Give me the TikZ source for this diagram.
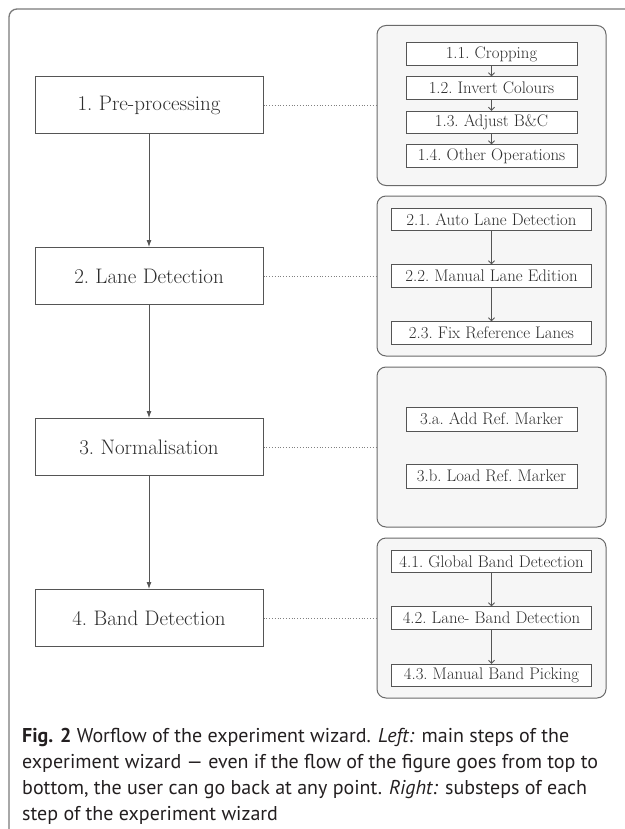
\documentclass[tikz,border=0pt]{standalone}
\usepackage{fontspec}
\newfontfamily\capfont[Ligatures=TeX]{PT Sans}
\usetikzlibrary{arrows.meta}
\definecolor{boxline}{HTML}{555555}
\definecolor{txt}{HTML}{2E2E2E}
\definecolor{panelfill}{HTML}{F6F6F6}
\definecolor{panelline}{HTML}{6A6A6A}
\definecolor{framecol}{HTML}{7A7A7A}
\definecolor{captxt}{HTML}{231F20}
\tikzset{
  mainbox/.style={draw=boxline, line width=1pt, fill=white, text=txt, minimum width=228pt, minimum height=57pt, inner sep=0pt, font=\fontsize{21}{25}\selectfont},
  panel/.style={draw=panelline, line width=1pt, fill=panelfill, rounded corners=9pt, minimum width=229pt, minimum height=160pt, inner sep=0pt},
  subbox/.style={draw=boxline, line width=0.9pt, fill=white, text=txt, minimum height=22.5pt, inner sep=0pt, font=\fontsize{16.8}{20}\selectfont},
  narrow/.style={subbox, minimum width=171pt},
  wide/.style={subbox, minimum width=200pt},
  mainarrow/.style={draw=boxline, line width=0.9pt, -{Latex[length=7pt,width=5pt]}},
  subarrow/.style={draw=boxline, line width=0.8pt, -{Straight Barb[length=3pt,width=6pt]}},
  link/.style={draw=gray, line width=0.8pt, dotted},
  capline/.style={anchor=base west, inner sep=0pt, text=captxt, font=\fontsize{20}{24}\selectfont\capfont}
}
\begin{document}
\begin{tikzpicture}[x=1pt, y=-1pt]
\useasboundingbox (0,0) rectangle (624,829);
% outer frame (only top and left visible)
\draw[framecol, line width=1.3pt, rounded corners=8pt] (9,835) -- (9,9) -- (630,9);

% main steps
\node[mainbox] (m1) at (149,105) {1.\ Pre-processing};
\node[mainbox] (m2) at (149,276) {2.\ Lane Detection};
\node[mainbox] (m3) at (149,447) {3.\ Normalisation};
\node[mainbox] (m4) at (149,618) {4.\ Band Detection};
\draw[mainarrow] (m1) -- (m2);
\draw[mainarrow] (m2) -- (m3);
\draw[mainarrow] (m3) -- (m4);

% panels
\node[panel] (p1) at (491.5,105.5) {};
\node[panel] (p2) at (491.5,276) {};
\node[panel] (p3) at (491.5,447) {};
\node[panel] (p4) at (491.5,618) {};

\draw[link] (m1.east) -- (p1.west |- m1.east);
\draw[link] (m2.east) -- (p2.west |- m2.east);
\draw[link] (m3.east) -- (p3.west |- m3.east);
\draw[link] (m4.east) -- (p4.west |- m4.east);

% panel 1
\node[narrow] (s11) at (491.5,54) {1.1.\ Cropping};
\node[narrow] (s12) at (491.5,88) {1.2.\ Invert Colours};
\node[narrow] (s13) at (491.5,122.5) {1.3.\ Adjust B\&C};
\node[narrow] (s14) at (491.5,156) {1.4.\ Other Operations};
\draw[subarrow] (s11) -- (s12);
\draw[subarrow] (s12) -- (s13);
\draw[subarrow] (s13) -- (s14);

% panel 2
\node[wide] (s21) at (491.5,219.5) {2.1.\ Auto Lane Detection};
\node[wide] (s22) at (491.5,276) {2.2.\ Manual Lane Edition};
\node[wide] (s23) at (491.5,333) {2.3.\ Fix Reference Lanes};
\draw[subarrow] (s21) -- (s22);
\draw[subarrow] (s22) -- (s23);

% panel 3
\node[narrow, minimum height=24pt] (s3a) at (491.5,419) {3.a.\ Add Ref.\ Marker};
\node[narrow, minimum height=24pt] (s3b) at (491.5,476) {3.b.\ Load Ref.\ Marker};

% panel 4
\node[wide] (s41) at (491.5,561.5) {4.1.\ Global Band Detection};
\node[wide] (s42) at (491.5,618) {4.2.\ Lane- Band Detection};
\node[wide] (s43) at (491.5,675.5) {4.3.\ Manual Band Picking};
\draw[subarrow] (s41) -- (s42);
\draw[subarrow] (s42) -- (s43);

% caption
\node[capline] (c1) at (22,742) {\textbf{Fig. 2} Worflow of the experiment wizard. \textit{Left:} main steps of the};
\node[capline] (c2) at (22,768) {experiment wizard — even if the flow of the figure goes from top to};
\node[capline] (c3) at (22,794) {bottom, the user can go back at any point. \textit{Right:} substeps of each};
\node[capline] (c4) at (22,820) {step of the experiment wizard};
\end{tikzpicture}
\end{document}
